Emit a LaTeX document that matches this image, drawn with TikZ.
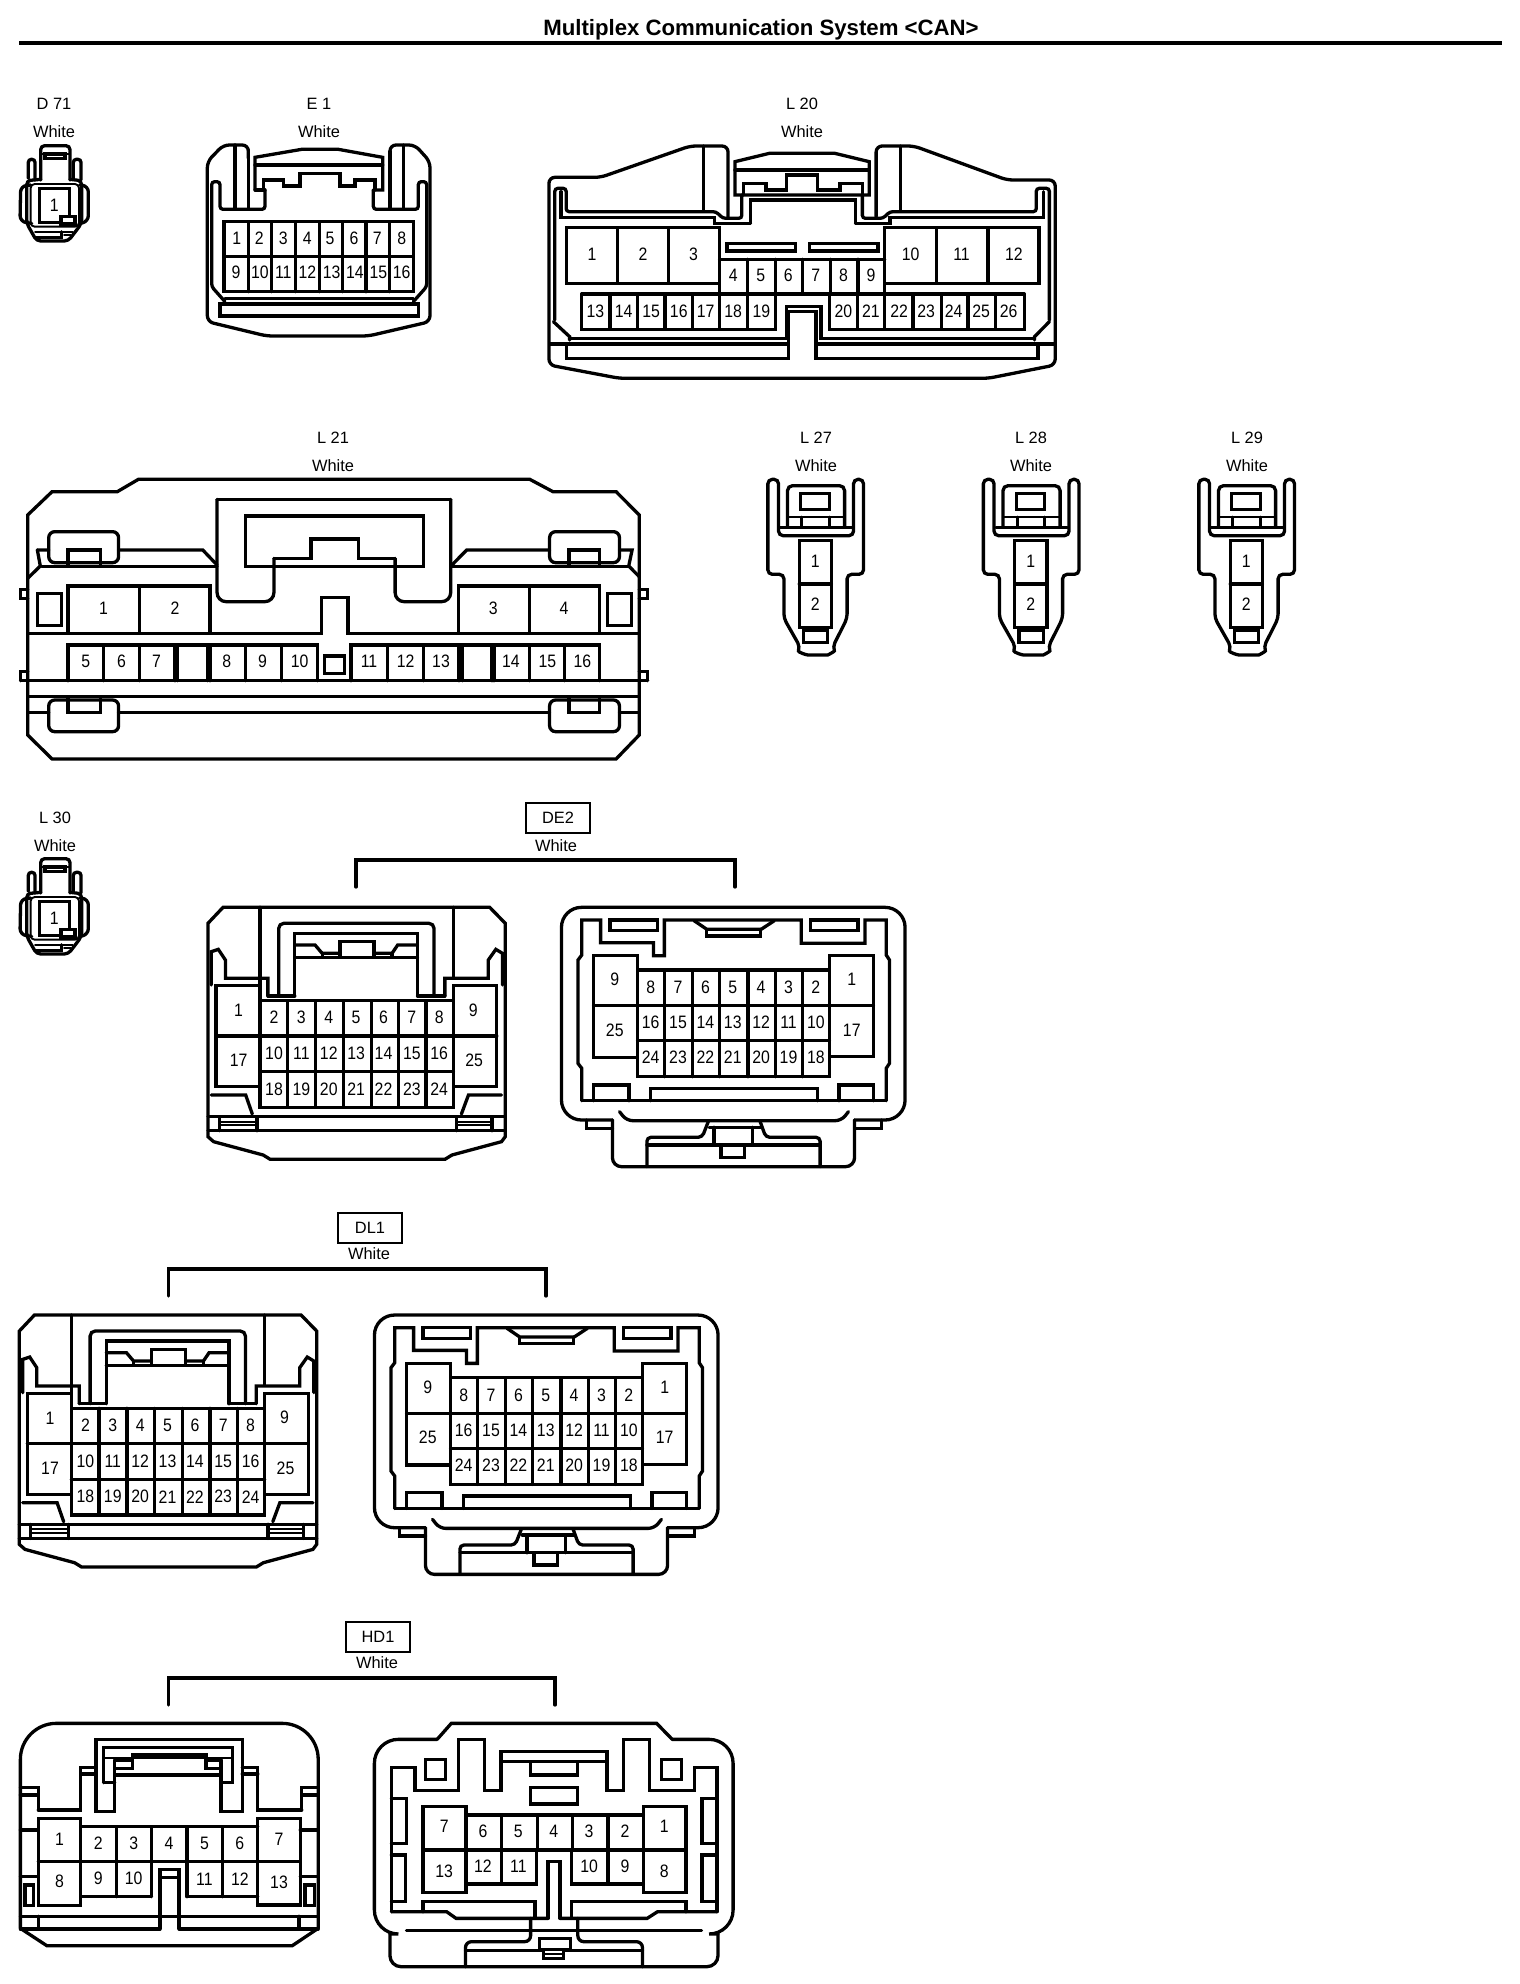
\documentclass[tikz,border=0pt]{standalone}
\usepackage{fontspec}
\setmainfont{Liberation Sans}
\newfontfamily\numfont[FakeStretch=0.88]{Liberation Sans}
\newcounter{nc}
\tikzset{
  zz/.style n args={3}{shift={(#1,#2)},x=#3pt,y=-0.33333pt},
  num/.style={font=\numfont\fontsize{18}{18}\selectfont,inner sep=0pt},
  lab/.style={font=\fontsize{16.4}{17}\selectfont,inner sep=0pt},
  titletext/.style={font=\bfseries\fontsize{22.2}{24}\selectfont,inner sep=0pt},
  tagbox/.style={draw,line width=2.6pt,minimum width=64pt,minimum height=30pt,inner sep=0pt,font=\fontsize{16.4}{17}\selectfont},
  tl/.style={line width=1.9pt},
  rc/.style={rounded corners=#1pt},
  rc/.default=4
}
\newcommand\rr[4]{\draw (#1,#2) rectangle (#3,#4);}
\newcommand\lb[3]{\stepcounter{nc}\node[num] (n\arabic{nc}) at (#1,#2) {#3};}
\newcommand\lbs[2]{\foreach \xx/\tt in {#2}{\lb{\xx}{#1}{\tt}}}
\newcommand\vgrid[3]{\foreach \xx in {#3}{\draw (\xx,#1) -- (\xx,#2);}}
\newcommand\hgrid[3]{\foreach \yy in {#3}{\draw (#1,\yy) -- (#2,\yy);}}
\newcommand\hdr[5]{\node[lab] (#1a) at (#2,#3) {#4}; \node[lab] (#1b) at (#2,#3+27.5) {#5};}
% ---- one pin connector D71 / L30
\newcommand\DSO[2]{\begin{scope}[shift={(#1,#2)}]\begin{scope}[zz={0}{80}{0.33333}]
 \draw[rc] (122,300) -- (122,197) -- (210,197) -- (210,300);
 \draw[tl] (122,222) -- (210,222);
 \rr{135}{222}{195}{236}
 \draw[rc=3] (85,295) -- (85,238) -- (105,238) -- (105,300);
 \draw[rc=3] (220,295) -- (220,238) -- (243,238) -- (243,300);
 \draw[rc=6] (92,315) -- (62,318) -- (60,425) -- (95,430);
 \draw[rc=6] (240,315) -- (265,318) -- (265,425) -- (240,430);
 \draw[rc] (122,298) -- (80,302) -- (80,430) -- (110,483) -- (205,483) -- (245,430) -- (245,302) -- (210,298);
 \draw[tl,rc] (92,312) -- (92,440) -- (237,440) -- (237,312) -- cycle;
 \rr{118}{325}{208}{428}
 \draw[fill=white] (183,410) rectangle (225,432);
 \draw[tl] (105,455) -- (218,455);
 \draw (185,455) -- (185,472) -- (108,472);
 \draw[tl] (192,466) -- (212,466);
 \lb{163}{375}{1}
\end{scope}\end{scope}}
% ---- L27 family
\newcommand\LTT[2]{\begin{scope}[shift={(#1,0)}]\begin{scope}[zz={750}{420}{0.357}]
 \draw[rc=4.5] (50,300) -- (50,178) -- (80,178) -- (80,347) -- (290,347) -- (290,178) -- (318,178) -- (318,463) -- (272,463) -- (272,595) -- (232,680) to[out=-70,in=0] (205,705) -- (175,705) to[out=180,in=-110] (140,680) -- (95,595) -- (95,463) -- (50,463) -- cycle;
 \draw[rc=5] (105,322) -- (105,197) -- (265,197) -- (265,322);
 \draw[tl] (105,290) -- (265,290);
 \draw (85,322) -- (285,322);
 \rr{142}{220}{222}{268}
 \draw (145,292) -- (145,320) (222,292) -- (222,320);
 \rr{138}{362}{228}{622}
 \draw (138,492) -- (228,492);
 \rr{150}{632}{218}{668}
 \lb{183}{425}{1}\lb{183}{552}{2}
\end{scope}\end{scope}}
% ---- 25-pin housing, front
\newcommand\TFL[2]{\begin{scope}[shift={(#1,#2)}]\begin{scope}[zz={190}{890}{0.472}]
 \draw (38,100) -- (70,52) -- (635,52) -- (668,100) -- (668,740) -- (660,755) -- (555,795) -- (540,808) -- (170,808) -- (155,795) -- (50,755) -- (38,740) -- cycle;
 \draw[rc] (148,290) -- (148,52);
 \draw[rc] (558,262) -- (558,52);
 \draw[rc=5] (188,318) -- (188,100) -- (517,100) -- (517,318);
 \draw (222,318) -- (222,130) -- (482,130) -- (482,318);
 \draw (222,203) -- (482,203);
 \draw (222,165) -- (265,165) -- (280,190) -- (318,190);
 \draw (318,200) -- (318,155) -- (390,155) -- (390,200);
 \draw (390,190) -- (428,190) -- (440,165) -- (482,165);
 \draw (280,190) -- (280,200) (428,190) -- (428,200);
 \draw (165,318) -- (222,318) (482,318) -- (540,318);
 \draw (165,318) -- (165,265) -- (75,265) -- (75,210) -- (60,178) -- (45,185) -- (45,285);
 \draw (540,318) -- (540,265) -- (632,265) -- (632,210) -- (648,178) -- (662,190) -- (662,285);
 \rr{55}{287}{148}{590}\rr{558}{287}{650}{590}
 \draw (55,438) -- (148,438) (558,438) -- (650,438);
 \rr{148}{332}{558}{652}
 \vgrid{332}{652}{207,266,325,384,442,500}
 \hgrid{148}{558}{438,545}
 \draw (45,615) -- (118,615) -- (132,672);
 \draw (660,615) -- (590,615) -- (575,672);
 \hgrid{38}{668}{680,722}
 \vgrid{680}{722}{62,142,565,640}
 \draw[tl] (62,695) -- (142,695) (62,705) -- (142,705) (565,695) -- (640,695) (565,705) -- (640,705);
 \lb{103}{362}{1}\lb{103}{512}{17}\lb{600}{360}{9}\lb{602}{512}{25}
 \lbs{382}{178/2,236/3,294/4,352/5,410/6,470/7,528/8}
 \lbs{490}{178/10,236/11,294/12,352/13,410/14,470/15,528/16}
 \lbs{597}{178/18,236/19,294/20,352/21,410/22,470/23,528/24}
\end{scope}\end{scope}}
% ---- 25-pin housing, rear
\newcommand\TFR[2]{\begin{scope}[shift={(#1,#2)}]\begin{scope}[zz={190}{890}{0.472}]
 \draw[rc=20] (895,690) -- (787,690) -- (787,52) -- (1515,52) -- (1515,690) -- (1408,690);
 \draw (840,690) -- (840,715) -- (895,715) (1410,715) -- (1465,715) -- (1465,690);
 \draw[rc=9] (895,690) -- (895,830) -- (1408,830) -- (1408,690);
 \draw[rc=6] (910,665) -- (925,692) -- (1380,692) -- (1395,665);
 \draw (830,632) -- (1475,632);
 \draw (830,632) -- (830,535) -- (822,520) -- (822,210) -- (830,195) -- (830,90) -- (870,90) -- (870,158) -- (982,158) -- (982,197) -- (1005,197) -- (1005,90) -- (1295,90) -- (1295,160) -- (1430,160) -- (1430,90) -- (1475,90) -- (1475,195) -- (1482,210) -- (1482,520) -- (1475,535) -- (1475,632);
 \draw (1068,92) -- (1095,118) -- (1210,118) -- (1238,92);
 \draw (1095,118) -- (1095,138) -- (1208,138) -- (1208,118);
 \rr{890}{90}{990}{122}\rr{1315}{90}{1415}{122}
 \rr{855}{197}{948}{502}\rr{1355}{197}{1448}{500}
 \draw (855,347) -- (948,347) (1355,347) -- (1448,347);
 \rr{948}{240}{1355}{560}
 \vgrid{240}{560}{1006,1065,1122,1182,1240,1298}
 \hgrid{948}{1355}{347,452}
 \draw (855,632) -- (855,585) -- (930,585) -- (930,632);
 \draw (975,632) -- (975,595) -- (1330,595) -- (1330,632);
 \draw (1375,632) -- (1375,585) -- (1448,585) -- (1448,632);
 \draw[rc] (968,830) -- (968,742) -- (1085,742) -- (1098,695);
 \draw[rc] (1335,830) -- (1335,742) -- (1220,742) -- (1208,695);
 \draw (1100,712) -- (1210,712);
 \draw (968,765) -- (1335,765);
 \draw (1110,712) -- (1110,765) (1192,712) -- (1192,765);
 \draw (1125,765) -- (1125,802) -- (1175,802) -- (1175,765);
 \lb{900}{268}{9}\lb{900}{420}{25}\lb{1402}{268}{1}\lb{1402}{420}{17}
 \lbs{292}{976/8,1034/7,1092/6,1150/5,1210/4,1268/3,1326/2}
 \lbs{398}{976/16,1034/15,1092/14,1150/13,1210/12,1268/11,1326/10}
 \lbs{503}{976/24,1034/23,1092/22,1150/21,1210/20,1268/19,1326/18}
\end{scope}\end{scope}}
\begin{document}
\begin{tikzpicture}[x=1pt,y=-1pt,line width=3.3pt,line cap=round]
\useasboundingbox (0,0) rectangle (1520,1984);
% title
\node[titletext] (title) at (761,30) {Multiplex Communication System <CAN>};
\coordinate (ruleL) at (19,43); \coordinate (ruleR) at (1502,43);
\draw[line width=3.8pt,line cap=butt] (ruleL) -- (ruleR);
% headers
\hdr{d}{54}{104}{D 71}{White}
\hdr{e}{319}{104}{E 1}{White}
\hdr{lt}{802}{104}{L 20}{White}
\hdr{lo}{333}{438}{L 21}{White}
\hdr{la}{816}{438}{L 27}{White}
\hdr{lb}{1031}{438}{L 28}{White}
\hdr{lc}{1247}{438}{L 29}{White}
\hdr{ld}{55}{818}{L 30}{White}
% D71, L30
\DSO{0}{0}
\DSO{0}{713}
% E1
\begin{scope}[zz={0}{80}{0.33333}]
 \draw[rc=6] (745,235) -- (745,195) -- (670,195) -- (622,245) -- (622,725) -- (800,768) -- (1105,768) -- (1290,725) -- (1290,245) -- (1245,195) -- (1170,195) -- (1170,235);
 \draw (765,330) -- (765,232) -- (905,208) -- (1015,208) -- (1148,232) -- (1148,330) -- (1120,330);
 \draw (765,255) -- (1148,255);
 \draw (790,330) -- (790,300) -- (850,300) -- (850,318) -- (900,318) -- (900,280) -- (1020,280) -- (1020,318) -- (1065,318) -- (1065,300) -- (1125,300) -- (1125,330);
 \draw (765,330) -- (795,330);
 \draw[rc=3] (795,330) -- (795,388) -- (660,388) -- (660,305) -- (635,305) -- (635,620) -- (675,665);
 \draw[rc=3] (1120,330) -- (1120,388) -- (1255,388) -- (1255,305) -- (1280,305) -- (1280,620) -- (1240,665);
 \draw (705,195) -- (705,388) (745,210) -- (745,388) (1210,195) -- (1210,388) (1170,215) -- (1170,388);
 \rr{672}{425}{1240}{635}
 \vgrid{425}{635}{745,815,887,958,1028,1098,1168}
 \draw (672,530) -- (1240,530);
 \draw (675,655) -- (1240,655);
 \rr{660}{672}{1255}{708}
 \lbs{475}{710/1,778/2,850/3,922/4,990/5,1062/6,1132/7,1205/8}
 \lbs{578}{708/9,780/10,850/11,922/12,995/13,1065/14,1135/15,1205/16}
\end{scope}
% L20
\begin{scope}[zz={530}{120}{0.3444}]
 \draw[rc=6] (575,290) -- (575,78) -- (465,78) -- (205,172) -- (55,172) -- (55,735) -- (260,775) -- (1330,775) -- (1525,735) -- (1525,180) -- (1385,180) -- (1115,78) -- (1005,78) -- (1005,290);
 \draw[rc=4] (503,272) -- (503,78);
 \draw (1075,78) -- (1075,272);
 \draw (595,225) -- (595,125) -- (695,100) -- (885,100) -- (985,125) -- (985,225) -- cycle;
 \draw (595,150) -- (985,150);
 \draw (620,225) -- (620,190) -- (685,190) -- (685,210) -- (745,210) -- (745,165) -- (835,165) -- (835,210) -- (900,210) -- (900,190) -- (965,190) -- (965,225);
 \draw (640,310) -- (640,240) -- (945,240) -- (945,310);
 \draw[rc=3] (72,600) -- (72,205) -- (105,205) -- (105,275) -- (540,275) -- (560,295) -- (615,295) -- (615,225);
 \draw (90,215) -- (90,292) -- (535,292) -- (535,310) -- (640,310);
 \draw (945,310) -- (1045,310) -- (1045,292) -- (1490,292) -- (1490,215);
 \draw[rc=3] (1508,600) -- (1508,205) -- (1470,205) -- (1470,275) -- (1045,275) -- (1025,295) -- (965,295) -- (965,225);
 \draw (68,605) -- (115,650) -- (115,660);
 \draw (1508,605) -- (1465,650) -- (1465,660);
 \draw (115,655) -- (745,655) -- (745,560) -- (845,560) -- (845,655) -- (1465,655);
 \draw (60,672) -- (745,672) (835,672) -- (1520,672);
 \draw (105,672) -- (105,715) -- (750,715) -- (750,575) -- (830,575) -- (830,715) -- (1475,715) -- (1475,672);
 \rr{105}{323}{550}{490}\rr{1030}{323}{1478}{490}
 \vgrid{323}{490}{255,403,1180,1330}
 \draw (550,418) -- (1030,418);
 \vgrid{418}{522}{632,712,792,872,952}
 \draw (550,490) -- (550,628) (1030,490) -- (1030,628);
 \draw (150,522) -- (1435,522);
 \draw (150,522) -- (150,628) -- (712,628) -- (712,522);
 \draw (870,522) -- (870,628) -- (1435,628) -- (1435,522);
 \vgrid{522}{628}{232,313,392,472,632,950,1112,1195,1272,1352}
 \rr{572}{370}{770}{393}\rr{812}{370}{1010}{393}
 \lbs{402}{180/1,328/2,475/3,1105/10,1253/11,1405/12}
 \lbs{467}{590/4,670/5,750/6,830/7,910/8,990/9}
 \lbs{575}{190/13,272/14,352/15,432/16,510/17,590/18,672/19,910/20,990/21,1072/22,1150/23,1230/24,1310/25,1390/26}
\end{scope}
% L21
\begin{scope}[zz={10}{460}{0.4209}]
 \draw (42,165) -- (100,95) -- (255,95) -- (305,58) -- (1235,58) -- (1290,95) -- (1440,95) -- (1495,165) -- (1495,825) -- (1440,897) -- (100,897) -- (42,825) -- cycle;
 \draw (627,295) -- (715,295) -- (715,237) -- (828,237) -- (828,295) -- (915,295);
 \draw[rc=9] (915,295) -- (915,425) -- (1047,425) -- (1047,118);
 \draw (1047,118) -- (492,118);
 \draw[rc=9] (492,118) -- (492,425) -- (627,425) -- (627,295);
 \rr{560}{168}{982}{320}
 \draw[rc=6] (92,215) rectangle (258,308);
 \draw (138,318) -- (138,270) -- (215,270) -- (215,318);
 \draw (65,270) -- (92,270) (258,270) -- (458,270) -- (492,315);
 \draw (65,270) -- (72,318) -- (42,355);
 \draw (75,320) -- (492,320) (1047,320) -- (1470,320);
 \draw (1050,315) -- (1085,270) -- (1282,270);
 \draw[rc=6] (1282,215) rectangle (1448,308);
 \draw (1328,318) -- (1328,270) -- (1400,270) -- (1400,318);
 \draw (1448,270) -- (1478,270) -- (1470,318) -- (1495,350);
 \draw (42,388) -- (25,388) -- (25,415) -- (42,415);
 \draw (1495,388) -- (1515,388) -- (1515,415) -- (1495,415);
 \draw (42,635) -- (25,635) -- (25,662);
 \draw (1495,635) -- (1515,635) -- (1515,662);
 \rr{65}{400}{122}{497}\rr{1420}{400}{1477}{497}
 \draw (138,520) -- (138,378) -- (475,378) -- (475,520) (307,378) -- (307,520);
 \draw (1065,520) -- (1065,378) -- (1400,378) -- (1400,520) (1235,378) -- (1235,520);
 \draw (42,520) -- (740,520) -- (740,412) -- (803,412) -- (803,520) -- (1495,520);
 \draw (138,662) -- (138,555) -- (392,555) -- (392,662);
 \draw (398,662) -- (398,555) -- (470,555) -- (470,662);
 \draw (475,662) -- (475,555) -- (730,555) -- (730,662);
 \draw (810,662) -- (810,555) -- (1067,555) -- (1067,662);
 \draw (1075,662) -- (1075,555) -- (1145,555) -- (1145,662);
 \draw (1150,662) -- (1150,555) -- (1400,555) -- (1400,662);
 \vgrid{555}{662}{222,307,560,645,897,982,1235,1318}
 \rr{748}{588}{795}{640}
 \draw (25,662) -- (1515,662);
 \draw (42,710) -- (1495,710);
 \draw (42,757) -- (92,757) (258,757) -- (1282,757) (1448,757) -- (1495,757);
 \draw[rc=6] (92,720) rectangle (258,815);
 \draw[rc=6] (1282,720) rectangle (1448,815);
 \draw (138,710) -- (138,757) -- (215,757) -- (215,710);
 \draw (1328,710) -- (1328,757) -- (1400,757) -- (1400,710);
 \lbs{445}{222/1,392/2,1148/3,1316/4}
 \lbs{605}{180/5,265/6,348/7,515/8,600/9,688/10,853/11,940/12,1024/13,1190/14,1277/15,1360/16}
\end{scope}
% L27 L28 L29
\LTT{0}{}
\LTT{215.5}{}
\LTT{431}{}
% DE2
\node[tagbox] (de) at (558,818) {DE2};
\node[lab] (dew) at (556,846) {White};
\coordinate (deA) at (356,887); \coordinate (deB) at (356,860); \coordinate (deC) at (735,860); \coordinate (deD) at (735,887);
\draw (deA) -- (deB) -- (deC) -- (deD);
\TFL{0}{0}
\TFR{0}{0}
% DL1
\node[tagbox] (dl) at (370,1228) {DL1};
\node[lab] (dlw) at (369,1254) {White};
\coordinate (dlA) at (168.5,1296); \coordinate (dlB) at (168.5,1269); \coordinate (dlC) at (546,1269); \coordinate (dlD) at (546,1296);
\draw (dlA) -- (dlB) -- (dlC) -- (dlD);
\TFL{-188.6}{407.7}
\TFR{-187}{407.7}
% HD1
\node[tagbox] (hd) at (378,1637) {HD1};
\node[lab] (hdw) at (377,1663) {White};
\coordinate (hdA) at (168.5,1705); \coordinate (hdB) at (168.5,1678); \coordinate (hdC) at (555,1678); \coordinate (hdD) at (555,1705);
\draw (hdA) -- (hdB) -- (hdC) -- (hdD);
\begin{scope}[zz={10}{1710}{0.472}]
 % left
 \draw[rc=36] (22,655) -- (22,40) -- (653,40) -- (653,655);
 \draw (22,655) -- (78,707) -- (598,707) -- (653,655);
 \draw (182,305) -- (182,88) -- (492,88) -- (492,305) -- (447,305) -- (447,195) -- (222,195) -- (222,305) -- cycle;
 \draw (198,218) -- (198,112) -- (472,112) -- (472,218) -- (447,218) (198,218) -- (222,218);
 \draw[tl] (198,145) -- (472,145);
 \draw (222,175) -- (260,175) -- (260,135) -- (415,135) -- (415,175) -- (447,175);
 \draw (222,150) -- (255,150) (415,150) -- (447,150) (222,150) -- (222,195) (447,150) -- (447,195);
 \draw (60,300) -- (150,300) -- (150,172) -- (182,172) (150,192) -- (182,192);
 \draw (618,300) -- (525,300) -- (525,172) -- (492,172) (525,192) -- (492,192);
 \draw (60,300) -- (60,232) -- (22,232) (60,255) -- (22,255);
 \draw (618,300) -- (618,232) -- (653,232) (618,255) -- (653,255);
 \draw (22,360) -- (60,360) (22,500) -- (60,500) (615,360) -- (653,360) (615,500) -- (653,500);
 \rr{32}{525}{50}{587}\rr{625}{525}{645}{587}
 \rr{60}{325}{150}{587}\rr{525}{325}{615}{585}
 \draw (60,455) -- (150,455) (525,455) -- (615,455);
 \draw (150,350) -- (525,350) (150,455) -- (525,455);
 \vgrid{350}{560}{225,300,375,450}
 \draw (150,560) -- (300,560) (375,560) -- (525,560);
 \draw (318,655) -- (318,478) -- (358,478) -- (358,655) (318,503) -- (358,503);
 \draw (22,619) -- (653,619);
 \draw (22,657) -- (318,657) (358,657) -- (653,657);
 \draw (60,619) -- (60,657) (612,619) -- (612,657);
 \lb{105}{388}{1}\lb{105}{515}{8}\lb{570}{388}{7}\lb{570}{517}{13}
 \lbs{400}{187/2,262/3,337/4,412/5,487/6}
 \lb{187}{505}{9}\lb{262}{505}{10}\lb{412}{508}{11}\lb{487}{508}{12}
 % right
 \draw[rc=24] (805,672) -- (772,672) -- (772,88) -- (905,88);
 \draw (905,88) -- (935,40) -- (1370,40) -- (1403,88);
 \draw[rc=24] (1403,88) -- (1532,88) -- (1532,672) -- (1500,672);
 \draw[rc=11] (805,672) -- (805,770) -- (1500,770) -- (1500,672);
 \draw (808,605) -- (808,172) -- (858,172) -- (858,242) -- (950,242) -- (950,88) -- (1005,88) -- (1005,242) -- (1040,242) -- (1040,125) -- (1265,125) -- (1265,242) -- (1300,242) -- (1300,88) -- (1355,88) -- (1355,242) -- (1450,242) -- (1450,172) -- (1498,172) -- (1498,605);
 \draw (1040,155) -- (1265,155);
 \draw (1103,155) -- (1103,195) -- (1203,195) -- (1203,155);
 \rr{1103}{232}{1203}{282}
 \rr{880}{148}{922}{208}\rr{1380}{148}{1422}{208}
 \draw (808,265) -- (840,265) -- (840,400) -- (808,400) (808,435) -- (838,435) -- (838,575) -- (808,575);
 \draw (1498,265) -- (1466,265) -- (1466,400) -- (1498,400) (1498,435) -- (1466,435) -- (1466,575) -- (1498,575);
 \rr{875}{290}{966}{548}\rr{1342}{290}{1432}{548}
 \draw (875,420) -- (1432,420);
 \draw (966,315) -- (1342,315);
 \vgrid{315}{420}{1042,1117,1192,1267}
 \draw (966,522) -- (1115,522) -- (1115,420) (1042,420) -- (1042,522);
 \draw (1190,420) -- (1190,522) -- (1342,522) (1267,420) -- (1267,522);
 \draw (1140,625) -- (1140,455) -- (1165,455) -- (1165,625);
 \draw (808,605) -- (925,605) -- (945,625) -- (1140,625);
 \draw (1165,625) -- (1350,625) -- (1372,605) -- (1498,605);
 \draw (875,605) -- (875,575) -- (1112,575) -- (1112,625);
 \draw (1190,625) -- (1190,575) -- (1432,575) -- (1432,605);
 \draw (840,662) -- (1465,662);
 \draw[rc=6] (1103,625) -- (1103,695) -- (965,695) -- (965,770);
 \draw[rc=6] (1203,625) -- (1203,695) -- (1340,695) -- (1340,770);
 \draw (965,722) -- (1340,722);
 \draw[fill=white] (1122,685) rectangle (1187,718);
 \draw[fill=white] (1130,718) rectangle (1172,745);
 \draw[tl] (1130,732) -- (1172,732);
 \lb{920}{350}{7}\lb{920}{483}{13}\lb{1386}{350}{1}\lb{1386}{483}{8}
 \lbs{365}{1002/6,1077/5,1152/4,1227/3,1303/2}
 \lbs{470}{1002/12,1077/11,1227/10,1303/9}
\end{scope}
\end{tikzpicture}
\end{document}
